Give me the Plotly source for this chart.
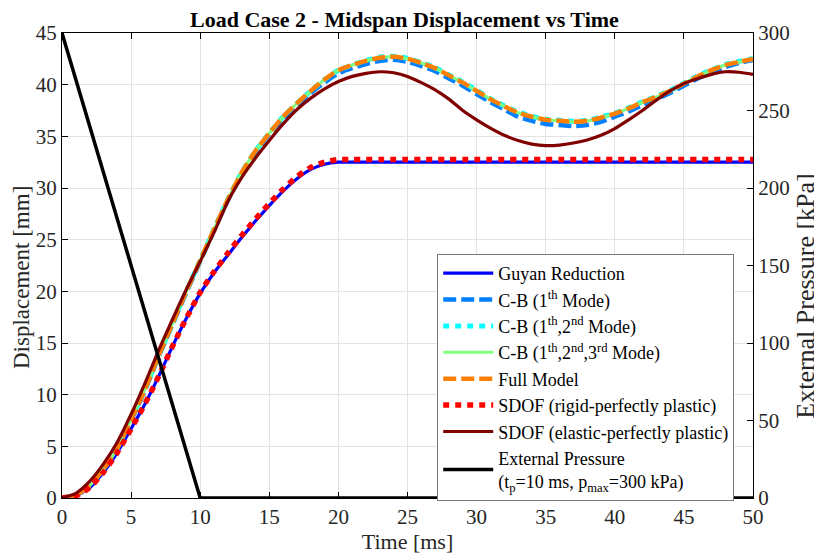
import plotly.graph_objects as go

# ---------------- data ----------------
time_ms = list(range(0, 51))

guyan = [0, 0.2, 1.0, 2.5, 4.4, 6.7, 9.1, 11.8, 14.7, 17.4,
         19.8, 21.8, 23.5, 25.2, 26.8, 28.3, 29.7, 30.9, 31.8, 32.3,
         32.5, 32.5, 32.5, 32.5, 32.5, 32.5, 32.5, 32.5, 32.5, 32.5,
         32.5, 32.5, 32.5, 32.5, 32.5, 32.5, 32.5, 32.5, 32.5, 32.5,
         32.5, 32.5, 32.5, 32.5, 32.5, 32.5, 32.5, 32.5, 32.5, 32.5, 32.5]

cb_1 = [0, 0.25, 1.2, 2.8, 4.8, 7.5, 10.4, 13.7, 16.8, 19.9,
        22.9, 25.9, 28.8, 31.3, 33.4, 35.2, 36.7, 38.0, 39.2, 40.2,
        41.1, 41.6, 42.0, 42.3, 42.4, 42.2, 41.8, 41.3, 40.6, 39.9,
        39.1, 38.3, 37.6, 36.9, 36.5, 36.2, 36.1, 36.0, 36.1, 36.4,
        36.9, 37.4, 38.0, 38.6, 39.2, 39.9, 40.6, 41.2, 41.7, 42.1, 42.4]

cb_12 = [0, 0.25, 1.2, 2.8, 4.8, 7.6, 10.5, 13.8, 16.9, 20.0,
         23.0, 26.0, 28.9, 31.5, 33.6, 35.3, 36.9, 38.2, 39.4, 40.5,
         41.4, 41.9, 42.35, 42.65, 42.75, 42.55, 42.15, 41.65, 40.95, 40.25,
         39.45, 38.65, 37.95, 37.35, 36.95, 36.65, 36.55, 36.45, 36.55, 36.85,
         37.25, 37.75, 38.35, 38.85, 39.45, 40.15, 40.85, 41.45, 41.95, 42.25, 42.55]

cb_123 = [0, 0.25, 1.2, 2.8, 4.8, 7.6, 10.5, 13.8, 16.9, 20.0,
          23.0, 26.0, 28.9, 31.5, 33.6, 35.3, 36.9, 38.2, 39.4, 40.5,
          41.4, 41.9, 42.3, 42.6, 42.7, 42.5, 42.1, 41.6, 40.9, 40.2,
          39.4, 38.6, 37.9, 37.3, 36.9, 36.6, 36.5, 36.4, 36.5, 36.8,
          37.2, 37.7, 38.3, 38.8, 39.4, 40.1, 40.8, 41.4, 41.9, 42.2, 42.5]

full_model = [0, 0.25, 1.2, 2.8, 4.8, 7.6, 10.5, 13.8, 16.9, 20.0,
              23.0, 26.0, 28.9, 31.5, 33.6, 35.3, 36.9, 38.2, 39.4, 40.5,
              41.4, 41.9, 42.3, 42.6, 42.7, 42.5, 42.1, 41.6, 40.9, 40.2,
              39.4, 38.6, 37.9, 37.3, 36.9, 36.6, 36.5, 36.4, 36.5, 36.8,
              37.2, 37.7, 38.3, 38.8, 39.4, 40.1, 40.8, 41.4, 41.9, 42.2, 42.5]

sdof_rigid = [0, 0.2, 1.0, 2.5, 4.4, 6.7, 9.1, 11.8, 14.7, 17.4,
              19.9, 21.9, 23.7, 25.4, 27.0, 28.5, 29.9, 31.1, 32.0, 32.5,
              32.75, 32.75, 32.75, 32.75, 32.75, 32.75, 32.75, 32.75, 32.75, 32.75,
              32.75, 32.75, 32.75, 32.75, 32.75, 32.75, 32.75, 32.75, 32.75, 32.75,
              32.75, 32.75, 32.75, 32.75, 32.75, 32.75, 32.75, 32.75, 32.75, 32.75, 32.75]

sdof_elastic = [0, 0.45, 1.6, 3.3, 5.4, 8.1, 11.1, 14.3, 17.3, 20.2,
                22.9, 25.7, 28.7, 31.0, 32.9, 34.6, 36.2, 37.6, 38.7, 39.6,
                40.3, 40.8, 41.1, 41.25, 41.15, 40.8, 40.2, 39.5, 38.6, 37.5,
                36.6, 35.8, 35.1, 34.6, 34.25, 34.1, 34.15, 34.35, 34.65, 35.1,
                35.75, 36.6, 37.5, 38.5, 39.4, 40.1, 40.6, 41.0, 41.25, 41.2, 41.0]

pressure_t = [0, 10, 50]
pressure_kpa = [300, 0, 0]

x_ticks = [0, 5, 10, 15, 20, 25, 30, 35, 40, 45, 50]
y_ticks = [0, 5, 10, 15, 20, 25, 30, 35, 40, 45]
y2_ticks = [0, 50, 100, 150, 200, 250, 300]

# ---------------- figure ----------------
FONT = "Liberation Serif, Times New Roman, serif"
fig = go.Figure()

def add(y, name, color, width, dash="solid"):
    fig.add_trace(go.Scatter(
        x=time_ms, y=y, name=name, mode="lines",
        line=dict(color=color, width=width, dash=dash, shape="spline", smoothing=0.6),
    ))

add(guyan, "Guyan Reduction", "#0000FF", 3.2)
add(cb_1, "C-B (1<sup>th</sup> Mode)", "#0080FF", 4.5, "13px,5px")
add(cb_12, "C-B (1<sup>th</sup>,2<sup>nd</sup> Mode)", "#00FFFF", 5, "6px,6px")
add(cb_123, "C-B (1<sup>th</sup>,2<sup>nd</sup>,3<sup>rd</sup> Mode)", "#80FF80", 3)
add(full_model, "Full Model", "#FF8000", 4.5, "13px,5px")
add(sdof_rigid, "SDOF (rigid-perfectly plastic)", "#FF0000", 5.5, "6px,6px")
add(sdof_elastic, "SDOF (elastic-perfectly plastic)", "#800000", 3.2)

fig.add_trace(go.Scatter(
    x=pressure_t, y=pressure_kpa, yaxis="y2", mode="lines",
    name="External Pressure<br>(t<sub>p</sub>=10 ms, p<sub>max</sub>=300 kPa)",
    line=dict(color="#000000", width=3.5),
))

axis_common = dict(
    showline=True, linecolor="#000000", linewidth=1,
    ticks="inside", ticklen=6, tickcolor="#000000",
    tickfont=dict(family=FONT, size=21, color="#262626"),
    zeroline=False,
)

fig.update_layout(
    width=814, height=551,
    margin=dict(l=54, r=69, t=25, b=61, autoexpand=False),
    paper_bgcolor="white", plot_bgcolor="white",
    font=dict(family=FONT, color="#262626"),
    title=dict(text="<b>Load Case 2 - Midspan Displacement vs Time</b>",
               x=0.487, xanchor="center", y=0.98, yanchor="middle",
               font=dict(family=FONT, size=22, color="#000000")),
    xaxis=dict(range=[0, 50], tickvals=x_ticks, mirror="ticks",
               showgrid=True, gridcolor="#E3E3E3", gridwidth=1,
               title=dict(text="Time [ms]", font=dict(family=FONT, size=22, color="#262626"), standoff=4),
               **axis_common),
    yaxis=dict(range=[0, 45], tickvals=y_ticks,
               showgrid=True, gridcolor="#E3E3E3", gridwidth=1,
               **axis_common),
    yaxis2=dict(range=[0, 300], tickvals=y2_ticks, overlaying="y", side="right",
                showgrid=False,
                **axis_common),
    legend=dict(x=0.543, y=0.525, xanchor="left", yanchor="top",
                bgcolor="white", bordercolor="#7a7a7a", borderwidth=1,
                font=dict(family=FONT, size=18, color="#000000"),
                tracegroupgap=0, itemwidth=50),
    showlegend=True,
    annotations=[
        dict(text="Displacement [mm]", textangle=-90, xref="paper", yref="paper",
             x=-0.0595, y=0.475, xanchor="center", yanchor="middle", showarrow=False,
             font=dict(family=FONT, size=23, color="#262626")),
        dict(text="External Pressure [kPa]", textangle=-90, xref="paper", yref="paper",
             x=1.0767, y=0.435, xanchor="center", yanchor="middle", showarrow=False,
             font=dict(family=FONT, size=26, color="#262626")),
    ],
)

fig.write_html("out.html")
